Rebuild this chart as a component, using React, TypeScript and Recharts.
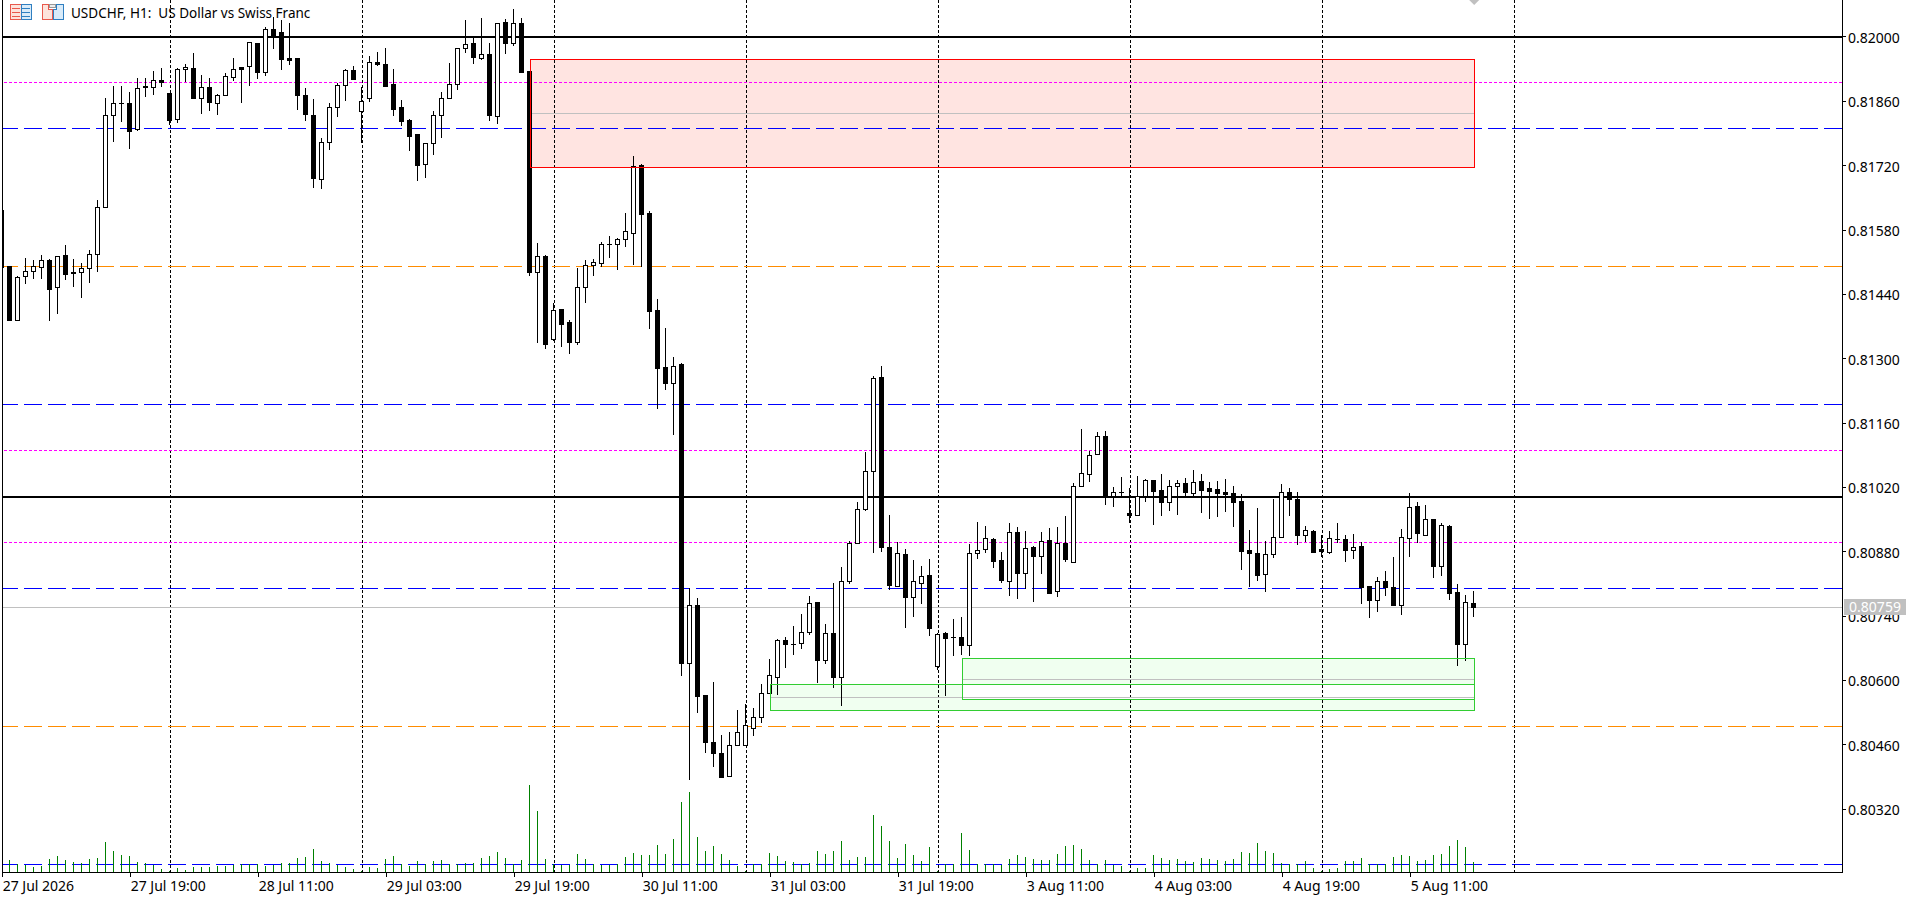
import {
  Bar, ComposedChart, ReferenceArea, ReferenceDot, ReferenceLine, XAxis, YAxis,
} from "recharts";

// quotes in points (1 point = 0.00001), one entry per H1 bar
const opens = [
  81623,81502,81384,81479,81490,81499,81515,81457,81525,81488,
  81488,81497,81527,81631,81831,81857,81857,81800,81893,81891,
  81906,81879,81821,81930,81932,81868,81891,81857,81873,81912,
  81935,81936,81988,81923,82017,82010,81954,81954,81873,81831,
  81692,81772,81847,81895,81928,81840,81868,81946,81941,81898,
  81847,81819,81788,81723,81769,81831,81868,81897,81975,81986,
  81955,81964,81829,82032,81988,82030,81926,81488,81523,81342,
  81409,81379,81337,81457,81503,81509,81549,81549,81560,81573,
  81721,81618,81405,81281,81248,81288,80638,80764,80568,80467,
  80441,80393,80460,80460,80497,80520,80573,80608,80688,80680,
  80682,80706,80770,80645,80703,80608,80817,80900,80974,81055,
  81261,80891,80806,80876,80782,80813,80829,80632,80703,80694,
  80695,80677,80878,80885,80908,80861,80817,80923,80834,80890,
  80871,80905,80795,80899,80857,81022,81050,81092,81131,81002,
  81011,80964,80959,81001,81035,81014,80989,81022,81029,81008,
  81034,81018,81016,81009,81007,80990,80883,80878,80832,80876,
  80912,81011,80994,80916,80925,80885,80880,80907,80907,80883,
  80892,80805,80774,80816,80803,80765,80910,80979,80917,80951,
  80849,80936,80792,80680,80768,
];
const highs = [
  81623,81502,81479,81519,81515,81526,81516,81524,81548,81517,
  81508,81537,81645,81868,81894,81894,81881,81910,81910,81926,
  81932,81879,81932,81941,81965,81918,81910,81876,81921,81954,
  81935,81990,81988,82021,82044,82037,82030,81955,81889,81865,
  81780,81857,81900,81930,81937,81892,81959,81967,81975,81930,
  81863,81821,81788,81769,81839,81881,81943,81977,82037,81997,
  82042,81988,82031,82040,82062,82042,81926,81551,81525,81422,
  81409,81384,81498,81515,81517,81553,81567,81563,81616,81741,
  81724,81621,81430,81367,81303,81290,80802,80779,80568,80597,
  80481,80487,80535,80548,80541,80592,80646,80691,80695,80719,
  80745,80784,80771,80723,80811,80846,80903,80988,81096,81262,
  81284,80960,80901,80885,80863,80849,80865,80704,80705,80733,
  80738,80896,80944,80936,80910,80879,80943,80934,80925,80893,
  80923,80932,80934,80958,81029,81147,81099,81141,81143,81021,
  81042,81018,81045,81038,81036,81049,81035,81036,81040,81057,
  81049,81031,81034,81038,81023,81005,80928,80975,80904,80995,
  81027,81019,81010,80936,80928,80917,80925,80943,80917,80919,
  80902,80805,80824,80839,80868,80929,81007,80988,80981,80951,
  80943,80938,80809,80785,80794,
];
const lows = [
  81499,81384,81383,81462,81473,81473,81383,81397,81472,81456,
  81432,81464,81488,81631,81772,81815,81757,81796,81870,81873,
  81892,81808,81813,81903,81865,81833,81839,81830,81871,81905,
  81857,81894,81909,81916,81974,81928,81938,81841,81818,81672,
  81669,81755,81826,81861,81907,81770,81859,81936,81892,81829,
  81806,81753,81686,81694,81744,81781,81864,81885,81966,81942,
  81951,81818,81811,81962,81981,81923,81479,81335,81321,81339,
  81326,81311,81329,81422,81480,81499,81520,81492,81544,81504,
  81499,81365,81191,81232,81134,80609,80383,80530,80442,80412,
  80390,80390,80459,80459,80479,80507,80572,80569,80627,80655,
  80669,80699,80594,80635,80584,80545,80810,80899,80969,80877,
  80880,80797,80805,80715,80737,80766,80696,80622,80565,80653,
  80655,80653,80864,80877,80845,80811,80784,80777,80799,80771,
  80831,80791,80782,80857,80857,81022,81031,81090,80982,80978,
  81002,80943,80959,80989,80938,80958,80969,80959,81001,81001,
  80964,80952,80956,80967,80934,80841,80803,80816,80793,80866,
  80910,80958,80895,80901,80880,80869,80875,80900,80858,80864,
  80766,80735,80748,80784,80761,80743,80869,80900,80915,80823,
  80828,80774,80632,80643,80738,
];
const closes = [
  81499,81384,81477,81490,81501,81514,81452,81523,81484,81486,
  81497,81527,81631,81831,81857,81857,81795,81890,81891,81906,
  81902,81820,81931,81934,81867,81892,81859,81873,81915,81931,
  81931,81990,81923,82017,82005,81953,81951,81874,81833,81694,
  81772,81847,81895,81928,81908,81861,81945,81942,81894,81844,
  81818,81785,81722,81769,81831,81868,81897,81975,81985,81957,
  81964,81831,82031,81988,82031,81923,81488,81524,81331,81405,
  81376,81337,81457,81503,81510,81549,81549,81560,81577,81719,
  81615,81404,81280,81248,81285,80638,80764,80565,80466,80442,
  80390,80460,80488,80503,80520,80573,80611,80688,80680,80680,
  80706,80768,80645,80703,80608,80817,80900,80972,81055,81259,
  80890,80808,80878,80782,80816,80828,80715,80701,80692,80694,
  80677,80878,80883,80909,80860,80818,80923,80834,80889,80871,
  80904,80791,80899,80864,81022,81052,81091,81131,81002,81011,
  81011,80959,81001,81035,81013,80989,81022,81029,81011,81031,
  81015,81013,81008,81006,80989,80882,80877,80830,80876,80912,
  81011,80994,80917,80927,80880,80882,80910,80907,80884,80891,
  80804,80774,80816,80804,80765,80912,80977,80920,80951,80849,
  80938,80791,80680,80770,80759,
];
const volumes = [
  12,37,27,22,16,19,40,49,37,33,
  30,40,43,91,64,52,49,33,30,22,
  10,5,13,7,16,16,16,20,19,22,
  27,27,27,19,22,30,30,43,46,70,
  34,28,22,16,10,5,16,13,40,49,
  27,19,34,27,34,37,27,27,30,30,
  43,49,61,43,27,37,262,184,40,26,
  24,22,55,40,27,22,22,27,46,58,
  52,52,82,55,100,211,241,106,64,79,
  55,37,19,5,25,25,58,49,34,33,
  27,30,64,55,64,94,37,46,46,172,
  139,94,43,85,52,34,76,5,27,27,
  118,67,27,27,27,22,40,52,46,40,
  37,37,55,79,82,70,37,27,37,22,
  19,5,13,13,52,43,37,40,34,31,
  43,40,37,34,40,61,58,88,64,58,
  30,27,27,34,13,5,10,13,34,34,
  43,27,27,27,46,52,49,34,37,52,
  55,79,97,76,31,
];

const priceTicks = [
  0.82, 0.8186, 0.8172, 0.8158, 0.8144, 0.813, 0.8116, 0.8102, 0.8088, 0.8074, 0.806, 0.8046, 0.8032,
];
const dateTicks = [0, 16, 32, 48, 64, 80, 96, 112, 128, 144, 160, 176];
const dateLabels = [
  "27 Jul 2026", "27 Jul 19:00", "28 Jul 11:00", "29 Jul 03:00", "29 Jul 19:00", "30 Jul 11:00",
  "31 Jul 03:00", "31 Jul 19:00", "3 Aug 11:00", "4 Aug 03:00", "4 Aug 19:00", "5 Aug 11:00",
];
const daySeparators = [21, 45, 69, 93, 117, 141, 165, 189];

const blackLevels = [0.82, 0.81];
const magentaLevels = [0.819, 0.811, 0.809];
const blueLevels = [0.818, 0.812, 0.808, 0.802];
const orangeLevels = [0.815, 0.805];

const LAST_PRICE = 0.80759;
const LAST_BAR = 184;
const RED_ZONE = { from: 66, top: 0.819515, bottom: 0.81716, mid: 0.81834 };
const GREEN_A = { from: 96, top: 0.805915, bottom: 0.80535, mid: 0.80563 };
const GREEN_B = { from: 120, top: 0.80648, bottom: 0.80559, mid: 0.80602 };

const X_DOMAIN: [number, number] = [0, 229.975];
const Y_DOMAIN: [number, number] = [0.80182, 0.820805];
const FONT = '"Noto Sans", sans-serif';

const bars = opens.map((open, i) => ({
  i,
  open: open / 100000,
  high: highs[i] / 100000,
  low: lows[i] / 100000,
  close: closes[i] / 100000,
  volume: volumes[i],
}));

function CandleShape(props: any) {
  const { x, y, width, height, payload } = props;
  const { open, high, low, close } = payload;
  const k = Math.abs(height) / (high - low);
  const toY = (v: number) => Math.min(y, y + height) + (high - v) * k;
  const cx = Math.floor(x + width / 2) + 0.5;
  const top = Math.round(toY(Math.max(open, close))) + 0.5;
  const bottom = Math.round(toY(Math.min(open, close))) + 0.5;
  const up = close > open;
  return (
    <g shapeRendering="crispEdges">
      <line x1={cx} x2={cx} y1={toY(high)} y2={toY(low)} stroke="#000" strokeWidth={1} />
      {bottom <= top ? (
        <line x1={cx - 2.5} x2={cx + 2.5} y1={top} y2={top} stroke="#000" strokeWidth={1} />
      ) : (
        <rect x={cx - 2} y={top} width={4} height={bottom - top} fill={up ? "#fff" : "#000"} stroke="#000" strokeWidth={1} />
      )}
    </g>
  );
}

function VolumeShape(props: any) {
  const { x, y, width, height } = props;
  const cx = Math.floor(x + width / 2);
  return <rect x={cx} y={y} width={1} height={height} fill="#008000" shapeRendering="crispEdges" />;
}

function DateTick(props: any) {
  const { x, y, payload } = props;
  const label = dateLabels[dateTicks.indexOf(payload.value)];
  return (
    <text x={x + 0.5} y={y + 12} fontFamily={FONT} fontSize={14} fill="#000">
      {label}
    </text>
  );
}

function Diamond(props: any) {
  const { cx, cy } = props;
  return <polygon points={`${cx - 5},${cy} ${cx},${cy + 5} ${cx + 5},${cy}`} fill="#c0c0c0" />;
}

function ChartIcons() {
  return (
    <svg width={70} height={24} style={{ position: "absolute", left: 0, top: 0 }} shapeRendering="crispEdges">
      <rect x={10} y={4.5} width={11} height={15} fill="#fde3dc" stroke="#e8584c" />
      <rect x={21} y={4.5} width={10.5} height={15} fill="#d9ebf9" stroke="#2f7fc1" />
      {[8.5, 12.5, 16.5].map((ly) => (
        <g key={ly}>
          <line x1={12} x2={20} y1={ly} y2={ly} stroke="#e8584c" />
          <line x1={22} x2={30} y1={ly} y2={ly} stroke="#2f7fc1" />
        </g>
      ))}
      <path d="M42.5 4.5h6v5h4v10h-10z" fill="#fde3dc" stroke="#e8584c" />
      <path d="M53.5 19.5v-10h3v-5h7v15z" fill="#d9ebf9" stroke="#2f7fc1" />
      <rect x={49.5} y={4.5} width={6} height={3} fill="#eee" stroke="#999" />
    </svg>
  );
}

export default function App() {
  return (
    <div style={{ position: "absolute", left: 0, top: 0, width: 1920, height: 898, background: "#fff", overflow: "hidden" }}>
      <ComposedChart
        width={1920}
        height={898}
        data={bars}
        margin={{ top: 0, right: 0, bottom: 0, left: 2.2 }}
      >
        <XAxis
          type="number"
          dataKey="i"
          domain={X_DOMAIN}
          allowDataOverflow
          ticks={dateTicks}
          interval={0}
          height={25.5}
          tickSize={4}
          tick={DateTick}
          stroke="#000"
          shapeRendering="crispEdges"
        />
        <XAxis xAxisId="vol" type="number" dataKey="i" domain={X_DOMAIN} allowDataOverflow hide />
        <YAxis
          orientation="right"
          domain={Y_DOMAIN}
          allowDataOverflow
          ticks={priceTicks}
          interval={0}
          width={78}
          tickSize={4}
          tickMargin={2}
          tickFormatter={(v: number) => v.toFixed(5)}
          tick={{ fontFamily: FONT, fontSize: 14, fill: "#000", dy: 1 }}
          stroke="#000"
          shapeRendering="crispEdges"
        />
        <YAxis yAxisId="vol" domain={[0, 2617.5]} hide />

        <ReferenceLine x={0} stroke="#000" shapeRendering="crispEdges" zIndex={250} />

        <ReferenceArea x1={RED_ZONE.from} x2={LAST_BAR} y1={RED_ZONE.bottom} y2={RED_ZONE.top} fill="#ffe4e1" fillOpacity={1} stroke="none" zIndex={100} />
        <ReferenceArea x1={GREEN_A.from} x2={LAST_BAR} y1={GREEN_A.bottom} y2={GREEN_A.top} fill="#f0fff0" fillOpacity={1} stroke="none" zIndex={100} />
        <ReferenceArea x1={GREEN_B.from} x2={LAST_BAR} y1={GREEN_B.bottom} y2={GREEN_B.top} fill="#f0fff0" fillOpacity={1} stroke="none" zIndex={100} />
        <ReferenceArea x1={GREEN_B.from} x2={LAST_BAR} y1={GREEN_B.bottom} y2={GREEN_A.top} fill="#fff" fillOpacity={1} stroke="none" zIndex={101} />

        {daySeparators.map((d) => (
          <ReferenceLine key={d} x={d} stroke="#000" strokeDasharray="3 2" shapeRendering="crispEdges" zIndex={150} />
        ))}
        <ReferenceLine y={LAST_PRICE} stroke="#c0c0c0" shapeRendering="crispEdges" zIndex={160} />
        {[RED_ZONE, GREEN_A, GREEN_B].map((z) => (
          <ReferenceLine key={z.from} segment={[{ x: z.from, y: z.mid }, { x: LAST_BAR, y: z.mid }]} stroke="#c0c0c0" shapeRendering="crispEdges" zIndex={160} />
        ))}
        {magentaLevels.map((v) => (
          <ReferenceLine key={v} y={v} stroke="#ff00ff" strokeDasharray="3 2" shapeRendering="crispEdges" zIndex={170} />
        ))}
        {blueLevels.map((v) => (
          <ReferenceLine key={v} y={v} stroke="#0000ff" strokeDasharray="18 6" shapeRendering="crispEdges" zIndex={170} />
        ))}
        {orangeLevels.map((v) => (
          <ReferenceLine key={v} y={v} stroke="#ff8c00" strokeDasharray="18 6" shapeRendering="crispEdges" zIndex={170} />
        ))}
        {blackLevels.map((v) => (
          <ReferenceLine key={v} y={v} stroke="#000" strokeWidth={2} shapeRendering="crispEdges" zIndex={180} />
        ))}

        <Bar
          xAxisId="vol"
          yAxisId="vol"
          dataKey="volume"
          barSize={1}
          shape={VolumeShape}
          isAnimationActive={false}
        />
        <Bar
          dataKey={(d: any) => [d.low, d.high]}
          barSize={5}
          shape={CandleShape}
          isAnimationActive={false}
        />

        <ReferenceArea x1={RED_ZONE.from} x2={LAST_BAR} y1={RED_ZONE.bottom} y2={RED_ZONE.top} fill="none" stroke="#ff0000" shapeRendering="crispEdges" zIndex={350} />
        <ReferenceArea x1={GREEN_A.from} x2={LAST_BAR} y1={GREEN_A.bottom} y2={GREEN_A.top} fill="none" stroke="#32cd32" shapeRendering="crispEdges" zIndex={350} />
        <ReferenceArea x1={GREEN_B.from} x2={LAST_BAR} y1={GREEN_B.bottom} y2={GREEN_B.top} fill="none" stroke="#32cd32" shapeRendering="crispEdges" zIndex={350} />
        <ReferenceDot x={LAST_BAR} y={Y_DOMAIN[1]} shape={Diamond} ifOverflow="visible" zIndex={350} />
      </ComposedChart>

      <ChartIcons />
      <div style={{ position: "absolute", left: 71, top: 3, fontFamily: FONT, fontSize: 13.5, lineHeight: "20px", whiteSpace: "pre", color: "#000" }}>
        USDCHF, H1:  US Dollar vs Swiss Franc
      </div>
      <div style={{ position: "absolute", left: 1844, top: 599, width: 62, height: 16, background: "#c0c0c0", color: "#fff", fontFamily: FONT, fontSize: 14, lineHeight: "16px", textAlign: "center" }}>
        {LAST_PRICE.toFixed(5)}
      </div>
    </div>
  );
}
